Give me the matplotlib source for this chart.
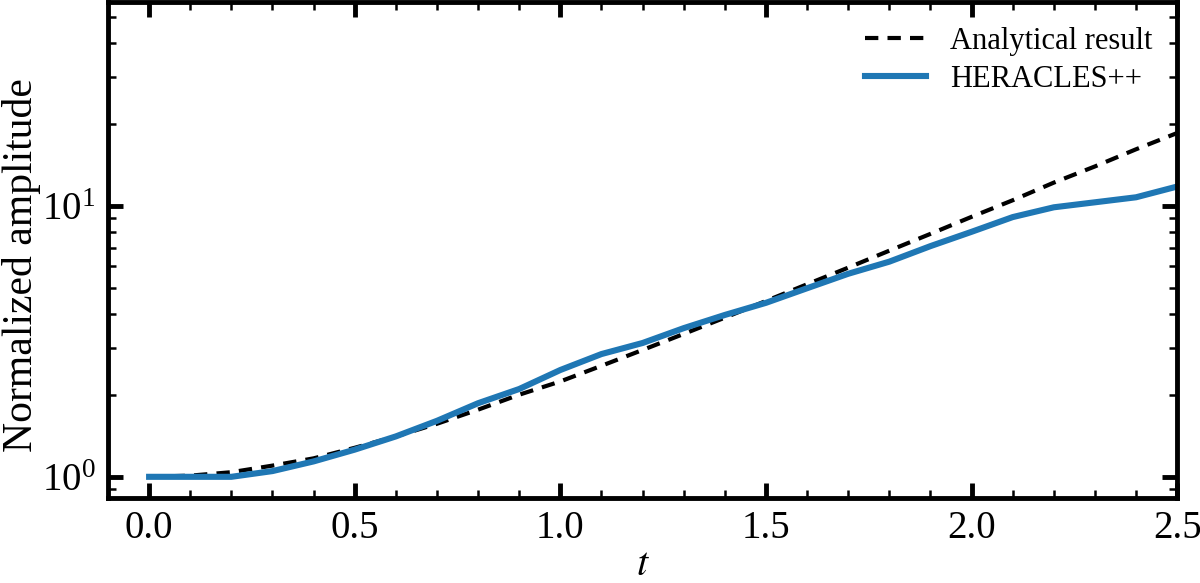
import numpy as np
import matplotlib
matplotlib.use("Agg")
import matplotlib.pyplot as plt
from matplotlib.ticker import MultipleLocator, LogLocator, NullFormatter

# time samples
t = [0.0, 0.1, 0.2, 0.3, 0.4, 0.5, 0.6, 0.7, 0.8, 0.9,
     1.0, 1.1, 1.2, 1.3, 1.4, 1.5, 1.6, 1.7, 1.8, 1.9,
     2.0, 2.1, 2.2, 2.3, 2.4, 2.5]

# analytical growth
analytical = [1.00, 1.01, 1.04, 1.10, 1.17, 1.28, 1.41, 1.57, 1.77, 2.01,
              2.25, 2.57, 2.94, 3.37, 3.87, 4.46, 5.14, 5.92, 6.84, 7.89,
              9.12, 10.5, 12.2, 14.0, 16.2, 18.6]

# simulation amplitude
heracles = [1.00, 1.00, 1.00, 1.05, 1.14, 1.26, 1.41, 1.61, 1.87, 2.11,
            2.48, 2.84, 3.12, 3.54, 3.96, 4.39, 4.97, 5.62, 6.23, 7.11,
            8.03, 9.10, 9.89, 10.32, 10.77, 11.80]

plt.rcParams["font.family"] = ["Liberation Serif", "DejaVu Serif"]
plt.rcParams["mathtext.fontset"] = "stix"

fig, ax = plt.subplots(figsize=(12, 5.83), dpi=100)
fig.subplots_adjust(left=0.09, right=0.981, bottom=0.146, top=0.996)

ax.plot(t, analytical, color="black", linestyle=(0, (3.2, 2.2)), linewidth=3.0,
        label="Analytical result")
ax.plot(t, heracles, color="#1f77b4", linewidth=4.4, label="HERACLES++")

ax.set_yscale("log")
ax.set_xlim(-0.1, 2.5)
ax.set_ylim(0.836, 56.5)

ax.xaxis.set_major_locator(MultipleLocator(0.5))
ax.xaxis.set_minor_locator(MultipleLocator(0.1))
ax.yaxis.set_major_locator(LogLocator(base=10))
ax.yaxis.set_minor_locator(LogLocator(base=10, subs=np.arange(2, 10)))
ax.yaxis.set_minor_formatter(NullFormatter())

ax.tick_params(which="both", direction="in", top=True, right=True, labelsize=28)
ax.tick_params(which="major", length=11, width=3.5, pad=9)
ax.tick_params(which="minor", length=6, width=1.8)
for spine in ax.spines.values():
    spine.set_linewidth(3.5)

ax.set_xlabel("$t$", fontsize=29, labelpad=0)
ax.set_ylabel("Normalized amplitude", fontsize=30)
ax.yaxis.set_label_coords(-0.063, 0.47)

ax.legend(loc="upper right", frameon=False, fontsize=22, handlelength=2.0,
          handletextpad=0.8, labelspacing=0.3, borderaxespad=0.4)

fig.savefig("out.png", dpi=100)
